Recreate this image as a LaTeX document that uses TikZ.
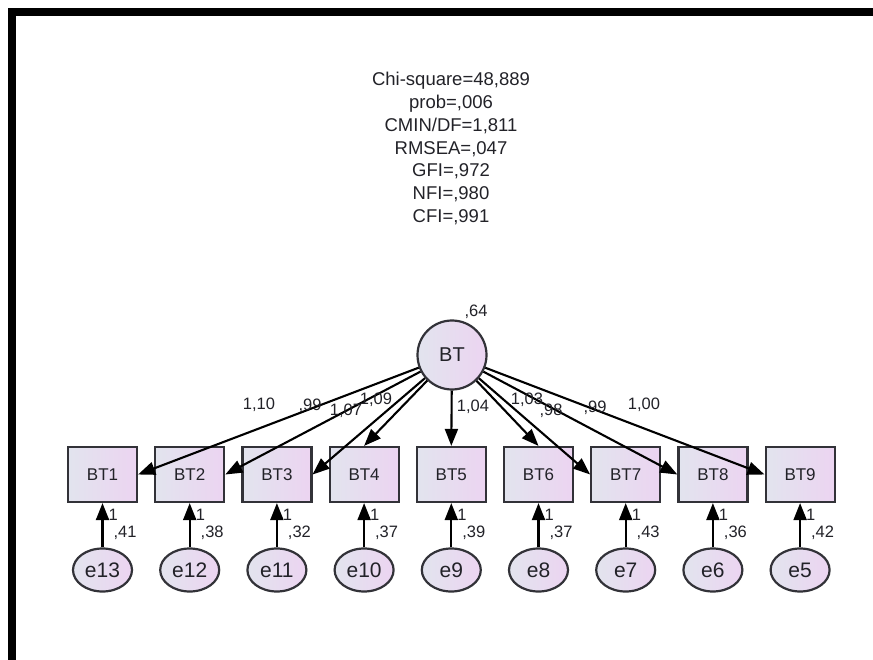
\documentclass[tikz,border=0pt]{standalone}
\usepackage{fontspec}
\setmainfont{Liberation Sans}
\usepackage{xcolor}
\definecolor{latgray}{RGB}{226,228,238}
\definecolor{latpink}{RGB}{236,212,241}
\definecolor{edgegray}{RGB}{50,50,56}
\definecolor{inkgray}{RGB}{34,34,40}
\usetikzlibrary{arrows.meta, shapes.geometric}

\begin{document}
\begin{tikzpicture}[x=1pt, y=-1pt,
  obs/.style={draw=edgegray, line width=2.2pt, left color=latgray, right color=latpink, minimum width=69pt, minimum height=55pt, inner sep=0pt, text=inkgray, font=\fontsize{17}{20}\selectfont},
  lat/.style={circle, draw=edgegray, line width=2.2pt, left color=latgray, right color=latpink, minimum size=69pt, inner sep=0pt, text=inkgray, font=\fontsize{20}{24}\selectfont},
  err/.style={ellipse, draw=edgegray, line width=2.2pt, left color=latgray, right color=latpink, minimum width=59pt, minimum height=43pt, inner sep=0pt, text=inkgray, font=\fontsize{21}{24}\selectfont},
  val/.style={inner sep=0pt, text=inkgray, font=\fontsize{16.5}{20}\selectfont},
  regr/.style={-{Triangle[length=17pt,width=13pt]}, line width=2.1pt, black},
]
\useasboundingbox (0,0) rectangle (873,660);
\draw[line width=8pt] (12,660) -- (12,12) -- (873,12);
% fit indices
\node[val, align=center, font=\fontsize{18.5}{22.8}\selectfont] (fit) at (451,148.5) {Chi-square=48,889\\ prob=,006\\ CMIN/DF=1,811\\ RMSEA=,047\\ GFI=,972\\ NFI=,980\\ CFI=,991};
% latent factor
\node[lat] (BT) at (452,355) {BT};
\node[val] (varBT) at (476,312) {,64};
% indicators
\node[obs] (BT1) at (102.5,474.5) {BT1};
\node[obs] (BT2) at (189.7,474.5) {BT2};
\node[obs] (BT3) at (276.9,474.5) {BT3};
\node[obs] (BT4) at (364.1,474.5) {BT4};
\node[obs] (BT5) at (451.3,474.5) {BT5};
\node[obs] (BT6) at (538.5,474.5) {BT6};
\node[obs] (BT7) at (625.7,474.5) {BT7};
\node[obs] (BT8) at (712.9,474.5) {BT8};
\node[obs] (BT9) at (800.1,474.5) {BT9};
% error terms
\node[err] (e13) at (102.5,570) {e13};
\node[err] (e12) at (189.7,570) {e12};
\node[err] (e11) at (276.9,570) {e11};
\node[err] (e10) at (364.1,570) {e10};
\node[err] (e9) at (451.3,570) {e9};
\node[err] (e8) at (538.5,570) {e8};
\node[err] (e7) at (625.7,570) {e7};
\node[err] (e6) at (712.9,570) {e6};
\node[err] (e5) at (800.1,570) {e5};
% loadings
\draw[regr] (BT) -- (BT1.east);
\draw[regr] (BT) -- (BT2.east);
\draw[regr] (BT) -- (BT3.east);
\draw[regr] (BT) -- (BT4.north);
\draw[regr] (BT) -- (BT5.north);
\draw[regr] (BT) -- (BT6.north);
\draw[regr] (BT) -- (BT7.west);
\draw[regr] (BT) -- (BT8.west);
\draw[regr] (BT) -- (BT9.west);
\node[val] (l1) at (259,405) {1,10};
\node[val] (l2) at (310,406) {,99};
\node[val] (l3) at (346,411) {1,07};
\node[val] (l4) at (376,400) {1,09};
\node[val] (l5) at (473,407) {1,04};
\node[val] (l6) at (527,400) {1,03};
\node[val] (l7) at (551,411) {,98};
\node[val] (l8) at (595,408) {,99};
\node[val] (l9) at (644,405) {1,00};
% error paths, fixed to 1
\draw[regr] (e13) -- node[val, pos=0.74, right=5pt] {1} (BT1);
\draw[regr] (e12) -- node[val, pos=0.74, right=5pt] {1} (BT2);
\draw[regr] (e11) -- node[val, pos=0.74, right=5pt] {1} (BT3);
\draw[regr] (e10) -- node[val, pos=0.74, right=5pt] {1} (BT4);
\draw[regr] (e9) -- node[val, pos=0.74, right=5pt] {1} (BT5);
\draw[regr] (e8) -- node[val, pos=0.74, right=5pt] {1} (BT6);
\draw[regr] (e7) -- node[val, pos=0.74, right=5pt] {1} (BT7);
\draw[regr] (e6) -- node[val, pos=0.74, right=5pt] {1} (BT8);
\draw[regr] (e5) -- node[val, pos=0.74, right=5pt] {1} (BT9);
% error variances
\node[val] (v13) at (125,533) {,41};
\node[val] (v12) at (212.2,533) {,38};
\node[val] (v11) at (299.4,533) {,32};
\node[val] (v10) at (386.6,533) {,37};
\node[val] (v9) at (473.8,533) {,39};
\node[val] (v8) at (561,533) {,37};
\node[val] (v7) at (648.2,533) {,43};
\node[val] (v6) at (735.4,533) {,36};
\node[val] (v5) at (822.6,533) {,42};
\end{tikzpicture}
\end{document}
